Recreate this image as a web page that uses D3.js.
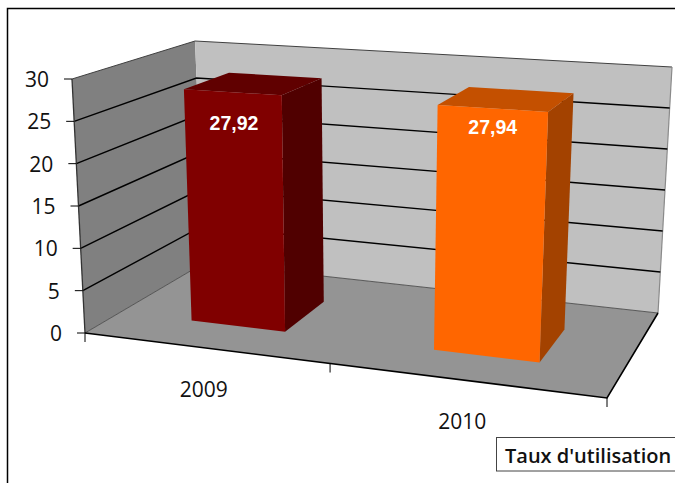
<!DOCTYPE html>
<html>
<head>
<meta charset="utf-8">
<script src="https://cdn.jsdelivr.net/npm/d3@7/dist/d3.min.js"></script>
<style>
html, body { margin: 0; padding: 0; background: #fff; overflow: hidden; }
svg { display: block; }
</style>
</head>
<body>
<div id="chart"></div>
<script>
var categories = ["2009", "2010"];
var values = [27.92, 27.94];
var valueLabels = ["27,92", "27,94"];
var yTicks = [0, 5, 10, 15, 20, 25, 30];
var seriesName = ["Taux d'utilisation"];

var width = 675, height = 483;

// corners of the 3d box on screen: [front/back][left/right], bottom and top
var box = {
  fl0: [85, 333], fr0: [607, 398], bl0: [204, 263], br0: [658, 313],
  fl1: [72, 79], fr1: [620, 112], bl1: [195, 41], br1: [672, 67]
};
var foreshorten = 1.13; // perspective along the category axis

var barStyle = [
  { front: "#800000", side: "#500000", top: "#600000", labelAt: 24.2 },
  { front: "#ff6600", side: "#a34200", top: "#c45000", labelAt: 25.8 }
];

var xScale = d3.scaleBand().domain(categories).range([0.008, 1]).paddingInner(0.6).paddingOuter(0.3);
var zScale = d3.scaleBand().domain(seriesName).range([0, 1]).paddingInner(0.6).paddingOuter(0.3);
var yScale = d3.scaleLinear().domain([0, 30]).range([0, 1]);

function mix(a, b, t) {
  return [a[0] + (b[0] - a[0]) * t, a[1] + (b[1] - a[1]) * t];
}

// t along categories, z into the depth, val on the value axis
function project(t, z, val) {
  var u = t / (t + foreshorten * (1 - t));
  var h = yScale(val);
  var bottom = mix(mix(box.fl0, box.fr0, u), mix(box.bl0, box.br0, u), z);
  var upper = mix(mix(box.fl1, box.fr1, u), mix(box.bl1, box.br1, u), z);
  return mix(bottom, upper, h);
}

var svg = d3.select("#chart").append("svg")
  .attr("width", width)
  .attr("height", height)
  .attr("viewBox", "0 0 " + width + " " + height);

var openLine = d3.line();
var polygon = d3.line().curve(d3.curveLinearClosed);

function face(points, fill) {
  svg.append("path").attr("d", polygon(points)).attr("fill", fill);
}
function stroke(points, color, w) {
  svg.append("path").attr("d", openLine(points)).attr("fill", "none").attr("stroke", color).attr("stroke-width", w);
}

// outer frame, runs off the right and bottom of the picture
stroke([[7.5, height + 2], [7.5, 8.5], [width + 2, 8.5]], "#000", 1.5);

// walls and floor
face([project(0, 0, 0), project(0, 1, 0), project(0, 1, 30), project(0, 0, 30)], "#808080");
face([project(0, 1, 0), project(1, 1, 0), project(1, 1, 30), project(0, 1, 30)], "#c0c0c0");
face([project(0, 0, 0), project(1, 0, 0), project(1, 1, 0), project(0, 1, 0)], "#949494");

stroke([project(0, 0, 30), project(0, 1, 30), project(1, 1, 30)], "#404040", 1);
stroke([project(1, 1, 30), project(1, 1, 0)], "#8a8a8a", 1.2);
stroke([project(0, 0, 0), project(0, 1, 0), project(1, 1, 0)], "#404040", 0.8);

// gridlines
yTicks.filter(function(d) { return d > 0 && d < 30; }).forEach(function(d) {
  stroke([project(0, 0, d), project(0, 1, d), project(1, 1, d)], "#000", 1.4);
});

// axes
stroke([project(0, 0, 30), project(0, 0, 0)], "#333", 1.3);
stroke([project(0, 0, 0), project(1, 0, 0), project(1, 1, 0)], "#000", 1.6);

yTicks.forEach(function(d) {
  var p = project(0, 0, d);
  stroke([[p[0] - 8, p[1]], p], "#000", 1);
  svg.append("text")
    .attr("x", p[0] - 23)
    .attr("y", p[1] + 8)
    .attr("text-anchor", "end")
    .attr("font-family", "'Open Sans', sans-serif")
    .attr("font-size", 21)
    .attr("fill", "#111")
    .text(d);
});

[0, 0.5, 1].forEach(function(t) {
  var p = project(t, 0, 0);
  stroke([p, [p[0], p[1] + 9]], "#000", 1);
});

categories.forEach(function(c, i) {
  var p = project(xScale(c) + xScale.bandwidth() / 2, 0, 0);
  svg.append("text")
    .attr("x", p[0] - 3)
    .attr("y", p[1] + 49)
    .attr("text-anchor", "middle")
    .attr("font-family", "'Open Sans', sans-serif")
    .attr("font-size", 21)
    .attr("fill", "#111")
    .text(c);
});

// bars
var z0 = zScale(seriesName[0]), z1 = z0 + zScale.bandwidth();
categories.forEach(function(c, i) {
  var t0 = xScale(c), t1 = t0 + xScale.bandwidth(), v = values[i], st = barStyle[i];
  face([project(t1, z0, 0), project(t1, z1, 0), project(t1, z1, v), project(t1, z0, v)], st.side);
  face([project(t0, z0, v), project(t1, z0, v), project(t1, z1, v), project(t0, z1, v)], st.top);
  face([project(t0, z0, 0), project(t1, z0, 0), project(t1, z0, v), project(t0, z0, v)], st.front);

  var p = project((t0 + t1) / 2, z0, st.labelAt);
  svg.append("text")
    .attr("x", p[0] + 1)
    .attr("y", p[1] + 7)
    .attr("text-anchor", "middle")
    .attr("font-family", "'Liberation Sans', Arial, sans-serif")
    .attr("font-weight", "bold")
    .attr("font-size", 19.5)
    .attr("fill", "#fff")
    .text(valueLabels[i]);
});

// legend
svg.append("rect")
  .attr("x", 496.5)
  .attr("y", 437.5)
  .attr("width", 190)
  .attr("height", 33.5)
  .attr("fill", "#fff")
  .attr("stroke", "#444")
  .attr("stroke-width", 1);
svg.append("text")
  .attr("x", 505)
  .attr("y", 462.5)
  .attr("font-family", "'Open Sans', sans-serif")
  .attr("font-weight", "600")
  .attr("font-size", 20)
  .attr("fill", "#111")
  .text(seriesName[0]);
</script>
</body>
</html>
